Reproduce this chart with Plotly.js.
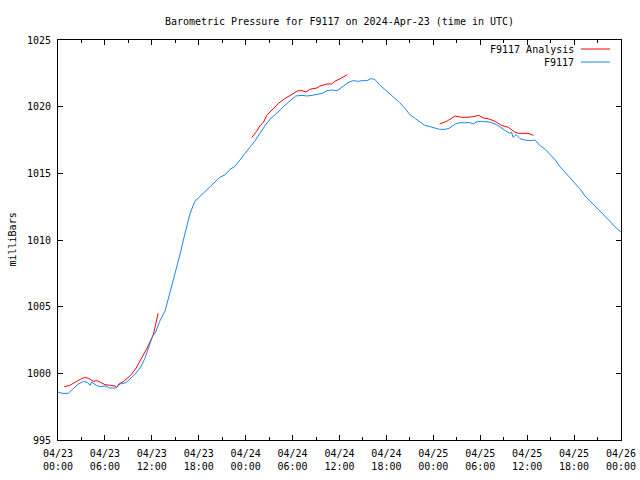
<!DOCTYPE html>
<html>
<head>
<meta charset="utf-8">
<script src="https://cdn.plot.ly/plotly-3.0.1.min.js"></script>
<style>html,body{margin:0;padding:0;background:#fff;}#chart{width:640px;height:480px;}</style>
</head>
<body>
<div id="chart"></div>
<script>
// Hours since 2024-04-23 00:00 UTC
var obsHours = [0,0.5,1.3,1.8,2.6,3.3,3.8,4.1,4.3,4.9,5.4,6.1,6.6,7.4,7.9,8.7,9.2,9.8,10.5,11.1,11.8,12.1,12.5,13.0,13.7,14.3,15.0,15.6,16.2,16.9,17.5,18.2,18.8,19.4,20.1,20.7,21.4,22.0,22.6,23.3,23.9,24.6,25.2,25.8,26.5,27.1,27.7,28.4,29.0,29.7,30.4,31.2,31.8,32.5,33.1,33.8,34.4,35.0,35.7,36.2,36.6,37.1,37.7,38.4,38.9,39.5,40.0,40.5,41.2,41.8,42.5,43.1,43.7,44.4,45.0,45.7,46.3,46.9,47.6,48.2,48.8,49.5,50.1,50.8,51.4,52.0,52.7,53.1,53.5,54.0,54.6,55.2,55.9,56.5,57.2,57.8,58.0,58.2,58.6,59.1,59.7,60.4,61.0,61.6,62.3,62.9,63.6,64.2,64.8,65.5,66.1,66.8,67.4,68.1,68.7,69.3,70.0,70.6,71.2,72.0];
var obsPressure = [998.6,998.5,998.5,998.8,999.2,999.4,999.3,999.1,999.35,999.1,999.0,999.05,998.9,998.9,999.2,999.3,999.6,999.9,1000.4,1001.1,1002.3,1002.8,1003.1,1003.9,1004.7,1006.0,1007.4,1008.9,1010.4,1012.0,1012.9,1013.3,1013.6,1014.0,1014.4,1014.7,1014.9,1015.3,1015.5,1016.0,1016.5,1017.0,1017.45,1018.0,1018.6,1019.05,1019.35,1019.75,1020.1,1020.45,1020.8,1020.85,1020.8,1020.85,1020.9,1021.0,1021.2,1021.25,1021.2,1021.4,1021.6,1021.8,1021.95,1021.9,1021.95,1021.95,1022.1,1022.05,1021.6,1021.3,1020.9,1020.6,1020.3,1019.85,1019.4,1019.1,1018.85,1018.6,1018.5,1018.4,1018.3,1018.3,1018.4,1018.7,1018.8,1018.8,1018.8,1018.7,1018.85,1018.9,1018.9,1018.85,1018.7,1018.5,1018.2,1018.0,1018.1,1017.7,1017.9,1017.6,1017.5,1017.45,1017.5,1017.1,1016.8,1016.4,1016.0,1015.5,1015.1,1014.6,1014.2,1013.8,1013.3,1012.9,1012.5,1012.2,1011.8,1011.4,1011.0,1010.6];

var anaHours = [0.8,1.5,2.4,3.0,3.5,4.0,4.5,5.0,5.5,6.0,6.7,7.3,7.5,7.8,8.4,9.0,9.3,10.0,10.6,11.4,12.2,12.4,12.6,12.8,13.0,
  24.8,25.4,25.8,26.3,26.7,27.3,28.2,29.0,29.9,30.7,31.2,31.7,32.2,33.1,33.5,34.4,35.0,35.4,36.1,36.5,37.0,38.0,
  48.8,49.7,50.8,51.6,52.3,53.1,53.8,54.4,55.0,55.9,56.7,57.6,58.4,58.9,60.1,60.8];
var anaPressure = [999.0,999.1,999.4,999.6,999.7,999.6,999.4,999.45,999.3,999.15,999.1,999.05,998.95,999.2,999.4,999.7,999.85,1000.4,1001.0,1001.9,1002.9,1003.4,1004.1,1004.5,null,
  1017.7,1018.15,1018.55,1018.85,1019.35,1019.7,1020.25,1020.6,1020.95,1021.2,1021.2,1021.1,1021.3,1021.4,1021.55,1021.7,1021.7,1021.9,1022.1,1022.25,1022.4,null,
  1018.7,1018.9,1019.3,1019.2,1019.2,1019.25,1019.35,1019.15,1019.1,1018.9,1018.6,1018.45,1018.1,1018.0,1018.0,1017.85];

var xTickVals = [0,6,12,18,24,30,36,42,48,54,60,66,72];
var xTickText = ["04/23<br>00:00","04/23<br>06:00","04/23<br>12:00","04/23<br>18:00","04/24<br>00:00","04/24<br>06:00","04/24<br>12:00","04/24<br>18:00","04/25<br>00:00","04/25<br>06:00","04/25<br>12:00","04/25<br>18:00","04/26<br>00:00"];
var xMinorVals = [3,9,15,21,27,33,39,45,51,57,63,69];
var yTickVals = [995,1000,1005,1010,1015,1020,1025];

var seriesNames = ["F9117 Analysis","F9117"];
var seriesColors = ["#ff0000","#1a86f0"];

var font = {family:"DejaVu Sans Mono, monospace", size:10, color:"#000"};

var traces = [
  {x: anaHours, y: anaPressure, name: seriesNames[0], type:"scatter", mode:"lines", connectgaps:false, line:{color:seriesColors[0], width:1}},
  {x: obsHours, y: obsPressure, name: seriesNames[1], type:"scatter", mode:"lines", line:{color:seriesColors[1], width:1}}
];

var layout = {
  width:640, height:480,
  paper_bgcolor:"#fff", plot_bgcolor:"#fff",
  margin:{l:58, r:19, t:40, b:40, pad:0},
  showlegend:false,
  font: font,
  title:{text:"Barometric Pressure for F9117 on 2024-Apr-23 (time in UTC)", font:font, x:0.5, xref:"paper", y:1-21/480, yref:"container", yanchor:"middle"},
  xaxis:{range:[0,72], tickmode:"array", tickvals:xTickVals, ticktext:xTickText, ticks:"inside", ticklen:5, tickcolor:"#000", tickwidth:1,
    minor:{tickmode:"array", tickvals:xMinorVals, ticks:"inside", ticklen:3, tickcolor:"#000", showgrid:false},
    showline:true, linecolor:"#000", linewidth:1, mirror:"ticks", showgrid:false, zeroline:false, tickfont:font, automargin:false, ticklabelstandoff:4},
  yaxis:{range:[995,1025], tickmode:"array", tickvals:yTickVals, ticks:"inside", ticklen:5, tickcolor:"#000", tickwidth:1,
    showline:true, linecolor:"#000", linewidth:1, mirror:"ticks", showgrid:false, zeroline:false, tickfont:font, automargin:false, ticklabelstandoff:4},
  annotations:[
    {text:"milliBars", xref:"paper", yref:"paper", x:(11.5-58)/563, y:0.5, textangle:-90, showarrow:false, font:font, xanchor:"center", yanchor:"middle"},
    {text:seriesNames[0], xref:"paper", yref:"paper", x:(576-58)/563, y:(440-49.5)/400, showarrow:false, font:font, xanchor:"right", yanchor:"middle"},
    {text:seriesNames[1], xref:"paper", yref:"paper", x:(576-58)/563, y:(440-62.5)/400, showarrow:false, font:font, xanchor:"right", yanchor:"middle"}
  ],
  shapes:[
    {type:"line", xref:"paper", yref:"paper", x0:(581-58)/563, x1:(610-58)/563, y0:(440-49)/400, y1:(440-49)/400, line:{color:seriesColors[0], width:1}},
    {type:"line", xref:"paper", yref:"paper", x0:(581-58)/563, x1:(610-58)/563, y0:(440-62)/400, y1:(440-62)/400, line:{color:seriesColors[1], width:1}}
  ]
};

Plotly.newPlot("chart", traces, layout, {staticPlot:true, displayModeBar:false});
</script>
</body>
</html>
